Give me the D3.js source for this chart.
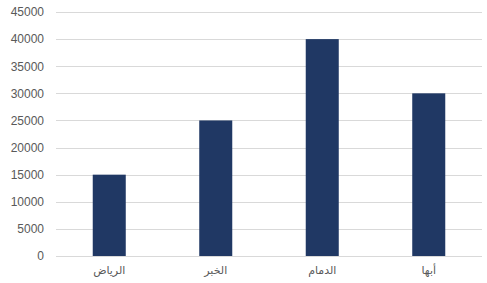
<!DOCTYPE html>
<html>
<head>
<meta charset="utf-8">
<script src="https://cdn.jsdelivr.net/npm/d3@7"></script>
<style>
  body { margin: 0; background: #fff; }
  .c-axis text { fill: #595959; font-family: "Liberation Sans", Arial, sans-serif; font-size: 12px; }
  .c-axis path, .c-axis line { display: none; }
  .c-grid line { stroke: #d9d9d9; stroke-width: 1; }
  .c-x text { font-family: "DejaVu Sans", sans-serif; font-size: 11px; }
</style>
</head>
<body>
<div id="chart"></div>
<script>
// categories, left to right as drawn
const cities = ['الرياض', 'الخبر', 'الدمام', 'أبها'];
const values = [15000, 25000, 40000, 30000];
const yTicks = [0, 5000, 10000, 15000, 20000, 25000, 30000, 35000, 40000, 45000];

const width = 487, height = 283;
const plotLeft = 56, plotRight = 482, plotTop = 12, plotBottom = 256;

const svg = d3.select('#chart').append('svg')
  .attr('width', width)
  .attr('height', height);

const y = d3.scaleLinear().domain([0, 45000]).range([plotBottom, plotTop]);
const x = d3.scaleBand().domain(cities).range([plotLeft, plotRight]).paddingInner(0.69).paddingOuter(0.345);

// gridlines
svg.append('g')
  .attr('class', 'c-grid')
  .selectAll('line')
  .data(yTicks)
  .join('line')
  .attr('x1', plotLeft)
  .attr('x2', plotRight)
  .attr('y1', d => Math.round(y(d)) + 0.5)
  .attr('y2', d => Math.round(y(d)) + 0.5);

// y axis labels
svg.append('g')
  .attr('class', 'c-axis')
  .attr('transform', 'translate(' + (plotLeft - 6) + ',0)')
  .call(d3.axisLeft(y).tickValues(yTicks).tickSize(0).tickPadding(6).tickFormat(d3.format('d')));

// bars
svg.append('g')
  .selectAll('rect')
  .data(values)
  .join('rect')
  .attr('x', (d, i) => x(cities[i]))
  .attr('width', x.bandwidth())
  .attr('y', d => y(d))
  .attr('height', d => y(0) - y(d))
  .attr('fill', '#203864');

// x axis labels
svg.append('g')
  .attr('class', 'c-axis c-x')
  .attr('transform', 'translate(0,' + plotBottom + ')')
  .call(d3.axisBottom(x).tickSize(0).tickPadding(10));
</script>
</body>
</html>
